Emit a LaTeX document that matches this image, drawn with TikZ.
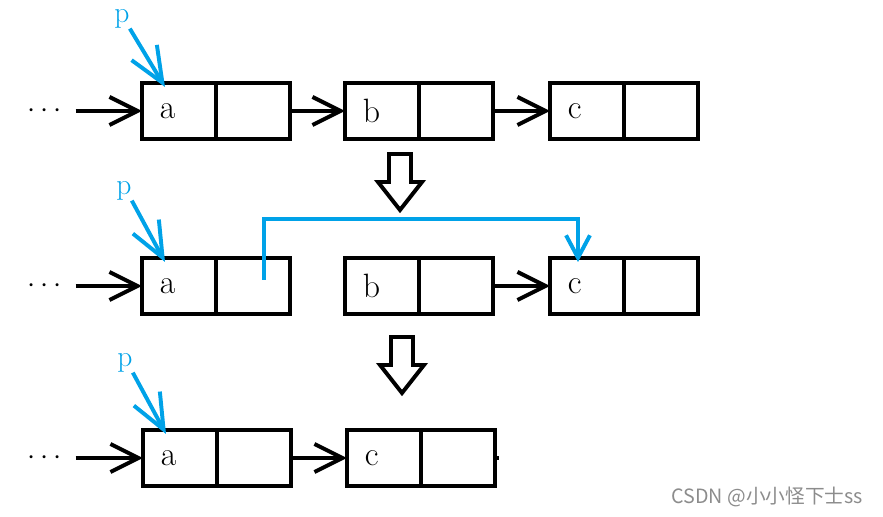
\documentclass[tikz,border=0pt]{standalone}
\usepackage{fontspec}
\newfontfamily\cjkfont{Noto Sans CJK SC}
\usepackage{xcolor}
\usepackage{tikz}
\usetikzlibrary{arrows.meta,positioning}
\definecolor{ptrblue}{HTML}{00A2E8}
\definecolor{mark}{HTML}{8C8C8C}
\tikzset{
  cell/.style={draw,line width=2.8pt,minimum width=1.85cm,minimum height=1.4cm,inner sep=0pt,outer sep=0pt},
  datacell/.style={cell,text width=0.95cm,inner xsep=0.45cm,align=left,font=\fontsize{24}{28}\selectfont},
  link/.style={draw,line width=2.8pt,-{Straight Barb[length=20pt,width=20pt]}},
  ptrline/.style={draw=ptrblue,line width=2.8pt,-{Straight Barb[length=25pt,width=21pt]}},
  reroute/.style={draw=ptrblue,line width=2.8pt,line join=miter,-{Straight Barb[length=16pt,width=17pt]}},
  ptrname/.style={text=ptrblue,inner sep=0pt,font=\fontsize{21}{24}\selectfont},
  dotsnode/.style={inner sep=1pt,font=\fontsize{22}{26}\selectfont},
  hollowdown/.pic={\draw[line width=2.8pt,line join=miter]
    (-11,0) -- (11,0) -- (11,28) -- (22,28) -- (0,56) -- (-22,28) -- (-11,28) -- cycle;}
}

\begin{document}
\begin{tikzpicture}[x=0.025cm,y=-0.025cm]
  \useasboundingbox (0,0) rectangle (883,517);
  % before
  \node[datacell] (a1) at (179,111) {a};
  \node[cell,right=0pt of a1] (a1n) {};
  \node[datacell] (b1) at (382,111) {b};
  \node[cell,right=0pt of b1] (b1n) {};
  \node[datacell] (c1) at (587,111) {c};
  \node[cell,right=0pt of c1] (c1n) {};
  \node[dotsnode] (dots1) at (45,111) {$\cdots$};
  \draw[link] ([xshift=0.3cm]dots1.east) -- (a1.west);
  \draw[link] (a1n.east) -- (b1.west);
  \draw[link] (b1n.east) -- (c1.west);
  \node[ptrname] (p1) at (122,19) {p};
  \draw[ptrline] (p1.south east) -- ([xshift=0.575cm,yshift=-0.1cm]a1.north west);
  \pic at (400,154) {hollowdown};
  % unlink b
  \node[datacell] (a2) at (179,286) {a};
  \node[cell,right=0pt of a2] (a2n) {};
  \node[datacell] (b2) at (382,286) {b};
  \node[cell,right=0pt of b2] (b2n) {};
  \node[datacell] (c2) at (587,286) {c};
  \node[cell,right=0pt of c2] (c2n) {};
  \node[dotsnode] (dots2) at (45,286) {$\cdots$};
  \draw[link] ([xshift=0.3cm]dots2.east) -- (a2.west);
  \draw[link] (b2n.east) -- (c2.west);
  \node[ptrname] (p2) at (124,191) {p};
  \draw[ptrline] (p2.south east) -- ([xshift=0.575cm,yshift=-0.1cm]a2.north west);
  \coordinate (nx2) at ([xshift=0.275cm,yshift=0.15cm]a2n.center);
  \draw[reroute] (nx2) -- ++(0,-61) -| ([xshift=-0.225cm,yshift=-0.1cm]c2.north);
  \pic at (402,337) {hollowdown};
  % after
  \node[datacell] (a3) at (180,458) {a};
  \node[cell,right=0pt of a3] (a3n) {};
  \node[datacell] (c3) at (384,458) {c};
  \node[cell,right=0pt of c3] (c3n) {};
  \node[dotsnode] (dots3) at (45,458) {$\cdots$};
  \draw[link] ([xshift=0.3cm]dots3.east) -- (a3.west);
  \draw[link] (a3n.east) -- (c3.west);
  \draw[line width=2.8pt] (c3n.east) -- ++(4,0);
  \node[ptrname] (p3) at (125,363) {p};
  \draw[ptrline] (p3.south east) -- ([xshift=0.575cm,yshift=-0.1cm]a3.north west);
  \node[text=mark,font=\cjkfont\fontsize{14}{16}\selectfont,anchor=east] (wm) at (868,497) {CSDN @小小怪下士ss};
\end{tikzpicture}
\end{document}
